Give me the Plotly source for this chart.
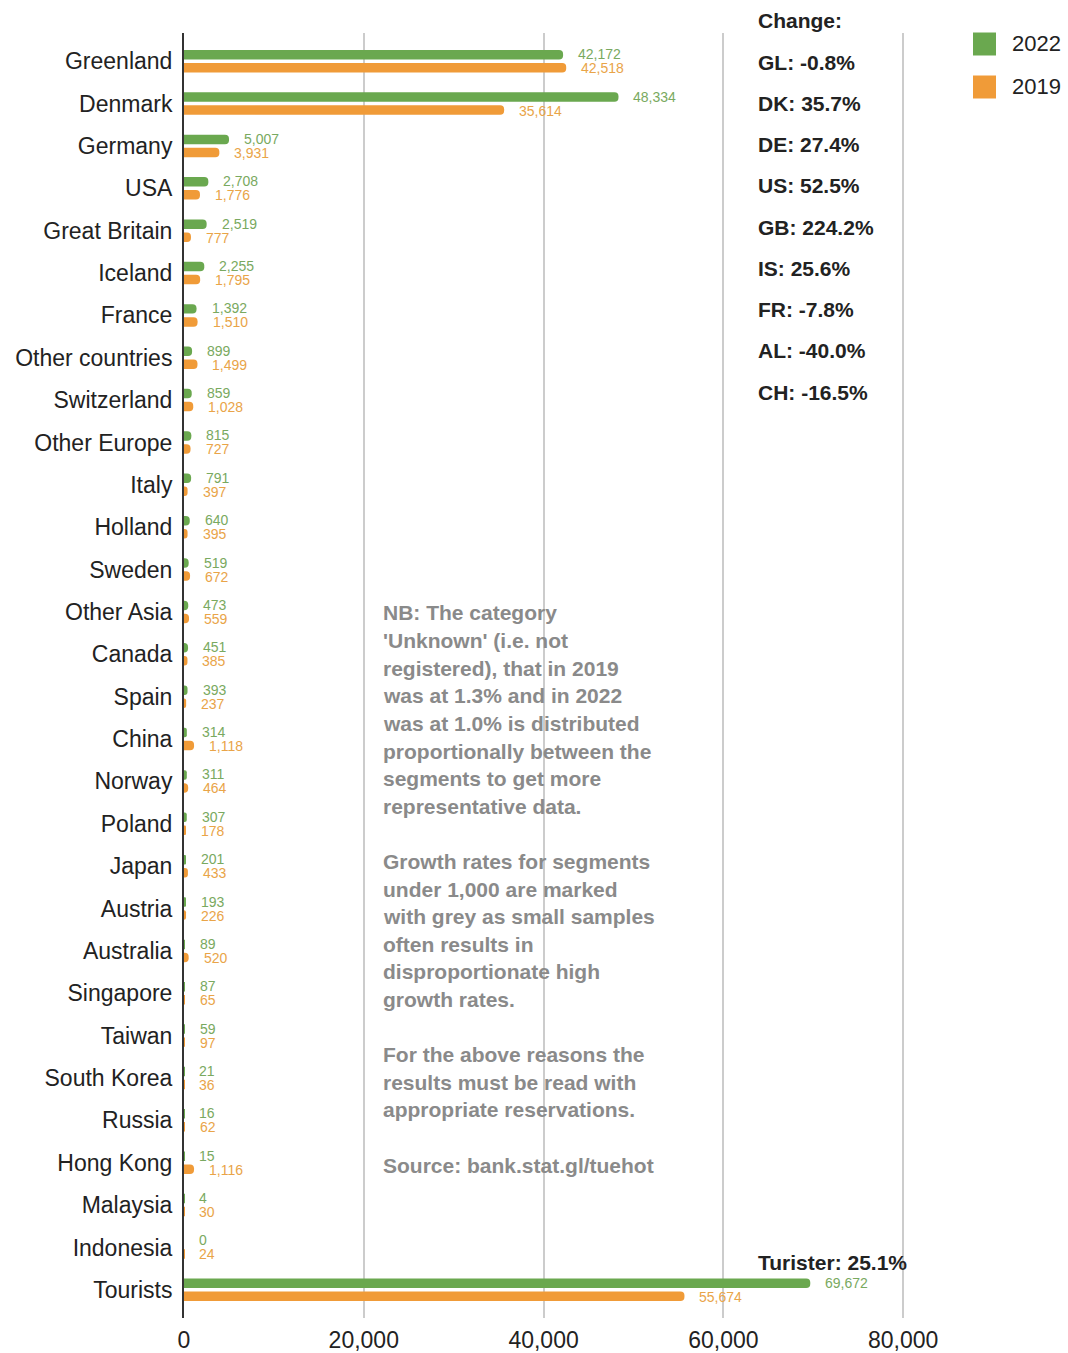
import plotly.graph_objects as go

# Overnight stays by nationality, 2022 vs 2019
categories = [
    "Greenland", "Denmark", "Germany", "USA", "Great Britain", "Iceland", "France",
    "Other countries", "Switzerland", "Other Europe", "Italy", "Holland", "Sweden",
    "Other Asia", "Canada", "Spain", "China", "Norway", "Poland", "Japan", "Austria",
    "Australia", "Singapore", "Taiwan", "South Korea", "Russia", "Hong Kong",
    "Malaysia", "Indonesia", "Tourists",
]
values_2022 = [42172, 48334, 5007, 2708, 2519, 2255, 1392, 899, 859, 815, 791, 640, 519,
               473, 451, 393, 314, 311, 307, 201, 193, 89, 87, 59, 21, 16, 15, 4, 0, 69672]
values_2019 = [42518, 35614, 3931, 1776, 777, 1795, 1510, 1499, 1028, 727, 397, 395, 672,
               559, 385, 237, 1118, 464, 178, 433, 226, 520, 65, 97, 36, 62, 1116, 30, 24, 55674]

change_labels = ["GL: -0.8%", "DK: 35.7%", "DE: 27.4%", "US: 52.5%", "GB: 224.2%",
                 "IS: 25.6%", "FR: -7.8%", "AL: -40.0%", "CH: -16.5%"]
total_change = "Turister: 25.1%"

note_lines = [
    "NB: The category",
    "'Unknown' (i.e. not",
    "registered), that in 2019",
    "was at 1.3% and in 2022",
    "was at 1.0% is distributed",
    "proportionally between the",
    "segments to get more",
    "representative data.",
    "",
    "Growth rates for segments",
    "under 1,000 are marked",
    "with grey as small samples",
    "often results in",
    "disproportionate high",
    "growth rates.",
    "",
    "For the above reasons the",
    "results must be read with",
    "appropriate reservations.",
    "",
    "Source: bank.stat.gl/tuehot",
]

x_ticks = [0, 20000, 40000, 60000, 80000]

GREEN = "#6aa84f"
ORANGE = "#f09b38"
GREEN_TXT = "#79a960"
ORANGE_TXT = "#e9a448"
FONT = "Liberation Sans, Arial, sans-serif"

W, H = 1068, 1353
L, R, T, B = 184, 75, 33, 35
plot_h = H - T - B


def py(px):
    """Convert a pixel row (from the top of the page) to paper y."""
    return (H - B - px) / plot_h


def pxx(px):
    """Convert a pixel column to paper x."""
    return (px - L) / (W - L - R)


fig = go.Figure()
fig.add_trace(go.Bar(
    y=categories, x=values_2022, orientation="h", name="2022",
    marker=dict(color=GREEN, cornerradius=5, line=dict(width=0)),
))
fig.add_trace(go.Bar(
    y=categories, x=values_2019, orientation="h", name="2019",
    marker=dict(color=ORANGE, cornerradius=5, line=dict(width=0)),
))

annotations = []
# value labels next to each bar
for cat, v22, v19 in zip(categories, values_2022, values_2019):
    annotations.append(dict(
        x=v22, y=cat, xref="x", yref="y", text=f"{v22:,}", showarrow=False,
        xanchor="left", yanchor="middle", xshift=13, yshift=7,
        font=dict(family=FONT, size=14, color=GREEN_TXT),
    ))
    annotations.append(dict(
        x=v19, y=cat, xref="x", yref="y", text=f"{v19:,}", showarrow=False,
        xanchor="left", yanchor="middle", xshift=13, yshift=-7,
        font=dict(family=FONT, size=14, color=ORANGE_TXT),
    ))

# change column
annotations.append(dict(
    x=pxx(756), y=py(20), xref="paper", yref="paper", text="<b>Change:</b>",
    showarrow=False, xanchor="left", yanchor="middle",
    font=dict(family=FONT, size=21, color="#222222"),
))
for i, lab in enumerate(change_labels):
    annotations.append(dict(
        x=pxx(756), y=py(62 + 41.25 * i), xref="paper", yref="paper",
        text=f"<b>{lab}</b>", showarrow=False, xanchor="left", yanchor="middle",
        font=dict(family=FONT, size=21, color="#222222"),
    ))
annotations.append(dict(
    x=pxx(756), y=py(1262), xref="paper", yref="paper", text=f"<b>{total_change}</b>",
    showarrow=False, xanchor="left", yanchor="middle",
    font=dict(family=FONT, size=21, color="#222222"),
))

# explanatory note
for i, line in enumerate(note_lines):
    if not line:
        continue
    annotations.append(dict(
        x=pxx(381), y=py(613 + 27.6 * i), xref="paper", yref="paper",
        text=f"<b>{line}</b>", showarrow=False, xanchor="left", yanchor="middle",
        font=dict(family=FONT, size=21, color="#8a8a8a"),
    ))

# legend
shapes = []
for name, col, cy in [("2022", GREEN, 44), ("2019", ORANGE, 87)]:
    shapes.append(dict(
        type="rect", xref="paper", yref="paper",
        x0=pxx(973), x1=pxx(996), y0=py(cy + 11.5), y1=py(cy - 11.5),
        fillcolor=col, line=dict(width=0),
    ))
    annotations.append(dict(
        x=pxx(1010), y=py(cy), xref="paper", yref="paper", text=name,
        showarrow=False, xanchor="left", yanchor="middle",
        font=dict(family=FONT, size=22, color="#222222"),
    ))

fig.update_layout(
    width=W, height=H,
    margin=dict(l=L, r=R, t=T, b=B, pad=0),
    paper_bgcolor="white", plot_bgcolor="white",
    barmode="group", bargap=0.386, bargroupgap=0.27,
    showlegend=False,
    annotations=annotations, shapes=shapes,
    xaxis=dict(
        range=[0, 90000], tickvals=x_ticks, tickformat=",",
        showgrid=True, gridcolor="#cccccc", gridwidth=2,
        zeroline=False, showline=False, ticks="",
        tickfont=dict(family=FONT, size=23, color="#222222"),
        ticklabelstandoff=6, automargin=False,
    ),
    yaxis=dict(
        categoryorder="array", categoryarray=categories,
        range=[len(categories) - 1 + 0.665, -0.665],
        showgrid=False, zeroline=False,
        showline=True, linecolor="#333333", linewidth=2,
        ticks="", tickfont=dict(family=FONT, size=23, color="#222222"),
        ticklabelstandoff=5, automargin=False,
    ),
)

fig.write_html("out.html")
